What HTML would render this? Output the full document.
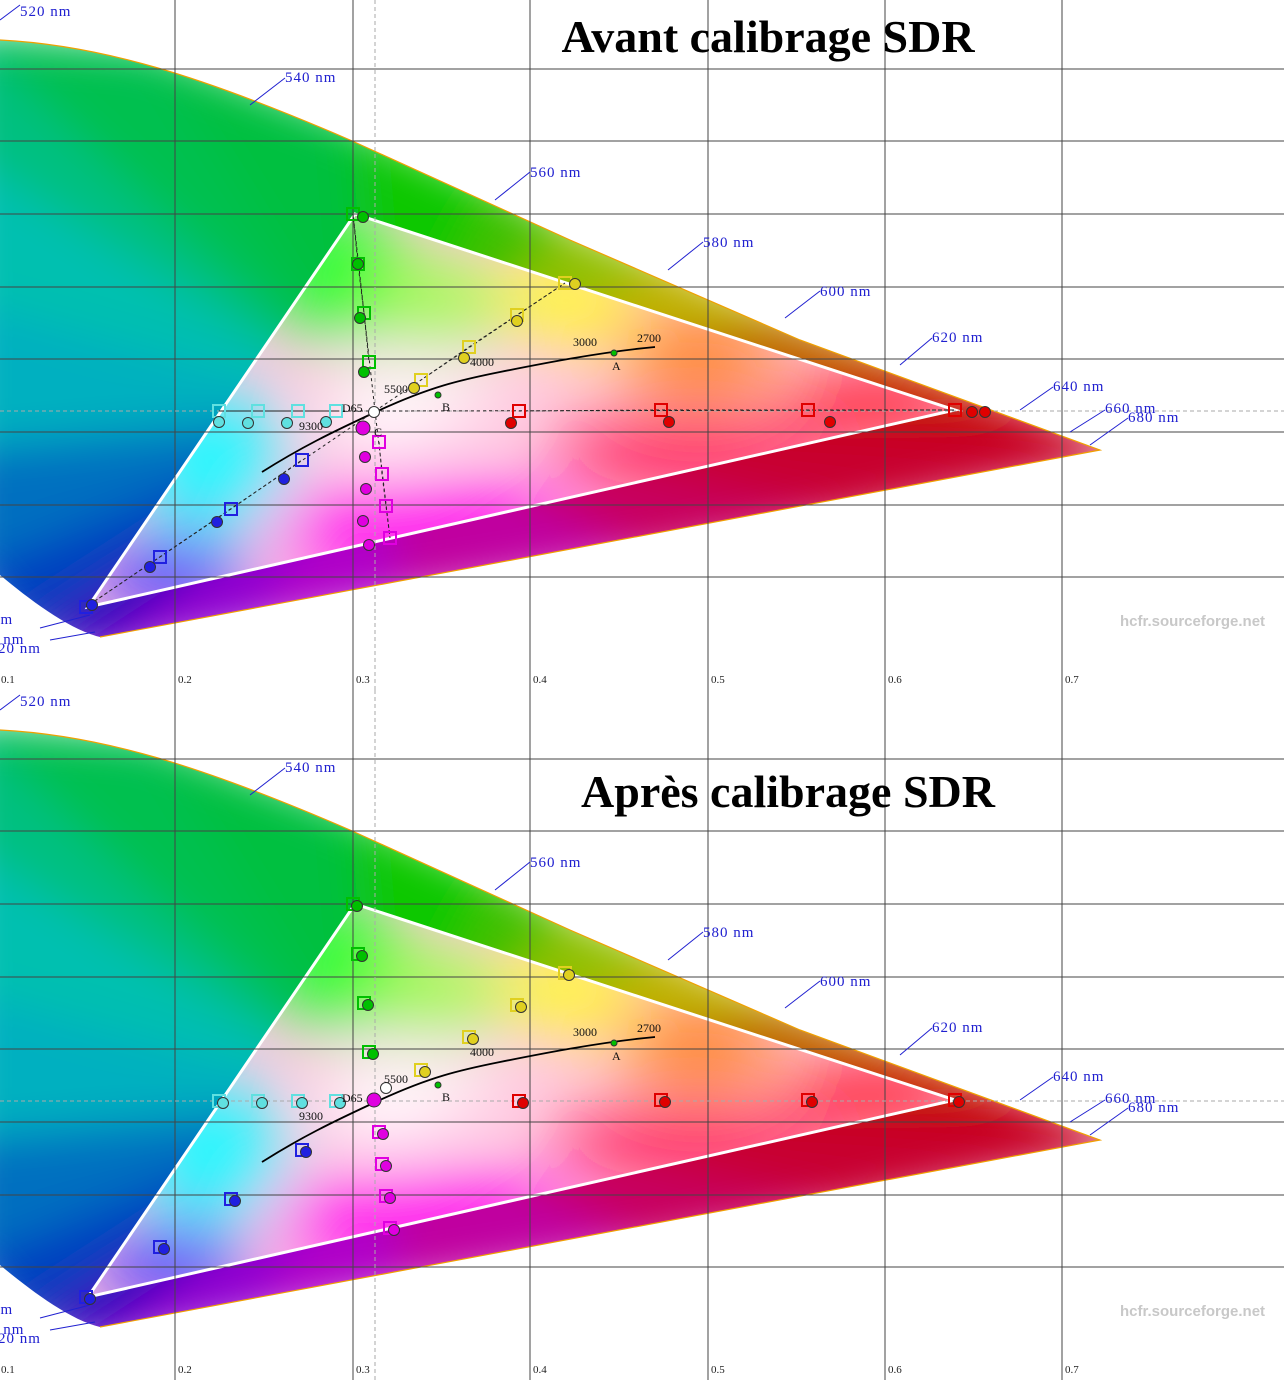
<!DOCTYPE html>
<html><head><meta charset="utf-8"><style>
html,body{margin:0;padding:0;background:#fff;}
svg{display:block;}
.wl{font-family:"Liberation Serif",serif;font-size:15px;fill:#2020d0;letter-spacing:1px;}
.ax{font-family:"Liberation Serif",serif;font-size:11px;fill:#222;}
.tt{font-family:"Liberation Serif",serif;font-size:46px;font-weight:bold;fill:#000;}
.wm{font-family:"Liberation Sans",sans-serif;font-size:15px;font-weight:bold;fill:#c8c8c8;}
.sm{font-family:"Liberation Serif",serif;font-size:12px;fill:#111;}
</style></head><body>
<svg id="s" width="1284" height="1394" viewBox="0 0 1284 1394" xmlns="http://www.w3.org/2000/svg">
<defs>
<clipPath id="hs"><path d="M0,40 C100,45 200,75 350,140 L570,240 L800,340 L1100,450 L100,637 C70,630 30,600 0,575 Z"/></clipPath>
<clipPath id="tri"><path d="M355,214 L955,410 L88,607 Z"/></clipPath>
<filter id="bl" x="-20%" y="-20%" width="140%" height="140%"><feGaussianBlur stdDeviation="22"/></filter>
<filter id="bl2" x="-50%" y="-50%" width="200%" height="200%"><feGaussianBlur stdDeviation="35"/></filter>
<g id="panel">
<g clip-path="url(#hs)">
<g id="fan" filter="url(#bl)"></g>
<g clip-path="url(#tri)">
<rect x="0" y="0" width="1200" height="700" fill="#ffc8e0"/>
<g filter="url(#bl2)">
<ellipse cx="335" cy="270" rx="70" ry="70" fill="#20ff30"/>
<ellipse cx="440" cy="300" rx="70" ry="45" fill="#a0ff50"/>
<ellipse cx="570" cy="300" rx="70" ry="40" fill="#ffff20"/>
<ellipse cx="700" cy="355" rx="80" ry="40" fill="#ff8018"/>
<ellipse cx="880" cy="405" rx="100" ry="30" fill="#ff0010"/>
<ellipse cx="690" cy="455" rx="140" ry="35" fill="#ff1050"/>
<ellipse cx="420" cy="530" rx="150" ry="45" fill="#ff10f0"/>
<ellipse cx="170" cy="575" rx="80" ry="35" fill="#4020ff"/>
<ellipse cx="210" cy="460" rx="75" ry="70" fill="#20f8ff"/>
<ellipse cx="385" cy="410" rx="60" ry="45" fill="#ffffff"/>
<ellipse cx="455" cy="395" rx="40" ry="25" fill="#ffffff"/>
</g>
</g>
</g>
<path d="M0,40 C100,45 200,75 350,140 L570,240 L800,340 L1100,450 L100,637" fill="none" stroke="#f0a000" stroke-width="1.2"/>
<path d="M355,214 L955,410 L88,607 Z" fill="none" stroke="#fff" stroke-width="3"/>
<g stroke="#444" stroke-width="1">
<line x1="175" y1="0" x2="175" y2="690"/><line x1="353" y1="0" x2="353" y2="690"/>
<line x1="530" y1="0" x2="530" y2="690"/><line x1="708" y1="0" x2="708" y2="690"/>
<line x1="885" y1="0" x2="885" y2="690"/><line x1="1062" y1="0" x2="1062" y2="690"/>
<line x1="0" y1="69" x2="1284" y2="69"/><line x1="0" y1="141" x2="1284" y2="141"/>
<line x1="0" y1="214" x2="1284" y2="214"/><line x1="0" y1="287" x2="1284" y2="287"/>
<line x1="0" y1="359" x2="1284" y2="359"/><line x1="0" y1="432" x2="1284" y2="432"/>
<line x1="0" y1="505" x2="1284" y2="505"/><line x1="0" y1="577" x2="1284" y2="577"/>
</g>
<g stroke="#aaa" stroke-dasharray="4,3"><line x1="375" y1="0" x2="375" y2="690"/><line x1="0" y1="411" x2="1284" y2="411"/></g>
<g stroke="#2020d0" stroke-width="1" fill="none">
<path d="M0,20 L20,5"/><path d="M250,105 L285,78"/><path d="M495,200 L530,172"/><path d="M668,270 L703,242"/>
<path d="M785,318 L820,291"/><path d="M900,365 L932,338"/><path d="M1020,410 L1053,387"/><path d="M1070,432 L1105,410"/><path d="M1090,445 L1128,418"/>
<path d="M40,628 L90,615"/><path d="M50,640 L95,632"/>
</g>
<path d="M262,472 C300,448 330,433 380,410 S460,380 500,372 S600,352 655,347" fill="none" stroke="#000" stroke-width="1.8"/>
</g>
</defs>
<use href="#panel"/>
<use href="#panel" transform="translate(0,690)"/>
<g id="mk"></g>
<text class="tt" x="768" y="52" text-anchor="middle">Avant calibrage SDR</text>
<text class="tt" x="788" y="807" text-anchor="middle">Après calibrage SDR</text>
<g class="wl">
<text x="20" y="16">520 nm</text><text x="285" y="82">540 nm</text><text x="530" y="177">560 nm</text><text x="703" y="247">580 nm</text><text x="820" y="296">600 nm</text><text x="932" y="342">620 nm</text><text x="1053" y="391">640 nm</text><text x="1105" y="413">660 nm</text><text x="1128" y="422">680 nm</text><text x="-8" y="624">nm</text><text x="-10" y="644">0 nm</text><text x="-2" y="653">20 nm</text>
<text x="20" y="706">520 nm</text><text x="285" y="772">540 nm</text><text x="530" y="867">560 nm</text><text x="703" y="937">580 nm</text><text x="820" y="986">600 nm</text><text x="932" y="1032">620 nm</text><text x="1053" y="1081">640 nm</text><text x="1105" y="1103">660 nm</text><text x="1128" y="1112">680 nm</text><text x="-8" y="1314">nm</text><text x="-10" y="1334">0 nm</text><text x="-2" y="1343">20 nm</text>
</g>
<g class="ax">
<text x="1" y="683">0.1</text><text x="178" y="683">0.2</text><text x="356" y="683">0.3</text><text x="533" y="683">0.4</text><text x="711" y="683">0.5</text><text x="888" y="683">0.6</text><text x="1065" y="683">0.7</text>
<text x="1" y="1373">0.1</text><text x="178" y="1373">0.2</text><text x="356" y="1373">0.3</text><text x="533" y="1373">0.4</text><text x="711" y="1373">0.5</text><text x="888" y="1373">0.6</text><text x="1065" y="1373">0.7</text>
</g>
<text class="wm" x="1120" y="626">hcfr.sourceforge.net</text>
<text class="wm" x="1120" y="1316">hcfr.sourceforge.net</text>
<g class="sm">
<text x="573" y="346">3000</text><text x="637" y="342">2700</text><text x="470" y="366">4000</text><text x="384" y="393">5500</text><text x="342" y="412">D65</text><text x="299" y="430">9300</text><text x="612" y="370">A</text><text x="442" y="411">B</text><text x="374" y="436">C</text>
<text x="573" y="1036">3000</text><text x="637" y="1032">2700</text><text x="470" y="1056">4000</text><text x="384" y="1083">5500</text><text x="342" y="1102">D65</text><text x="299" y="1120">9300</text><text x="612" y="1060">A</text><text x="442" y="1101">B</text>
</g>
</svg>
<script>
var NS='http://www.w3.org/2000/svg';
var fan=document.getElementById('fan');
var B=[[-40,30,'#00c050'],[150,45,'#00c040'],[350,120,'#10c800'],[495,185,'#40c000'],[570,225,'#90c000'],[670,265,'#c0b000'],[785,315,'#c07000'],[900,360,'#c83000'],[1020,405,'#c80010'],[1150,455,'#c80030'],[850,520,'#c80060'],[650,560,'#c000a0'],[400,600,'#b000c8'],[250,630,'#9000d0'],[100,660,'#4000c0'],[20,640,'#0040c0'],[-40,575,'#0070c0'],[-40,450,'#00b0c0'],[-40,300,'#00c0b0'],[-40,150,'#00c080']];
for(var i=0;i<B.length;i++){var a=B[i],b=B[(i+1)%B.length];var p=document.createElementNS(NS,'polygon');p.setAttribute('points','375,411 '+a[0]+','+a[1]+' '+b[0]+','+b[1]);p.setAttribute('fill',a[2]);p.setAttribute('stroke',a[2]);fan.appendChild(p);}
var g=document.getElementById('mk');
function sq(x,y,c){var r=document.createElementNS(NS,'rect');r.setAttribute('x',x-6);r.setAttribute('y',y-6);r.setAttribute('width',12);r.setAttribute('height',12);r.setAttribute('fill','none');r.setAttribute('stroke',c);r.setAttribute('stroke-width',2);g.appendChild(r);}
function ci(x,y,c,r){var e=document.createElementNS(NS,'circle');e.setAttribute('cx',x);e.setAttribute('cy',y);e.setAttribute('r',r||5.5);e.setAttribute('fill',c);e.setAttribute('stroke','#333');e.setAttribute('stroke-width',1);g.appendChild(e);}
function ln(a){var p=document.createElementNS(NS,'polyline');p.setAttribute('points',a.map(function(q){return q.join(',')}).join(' '));p.setAttribute('fill','none');p.setAttribute('stroke','#222');p.setAttribute('stroke-dasharray','3,3');g.appendChild(p);}
var S={g:[[353,214],[358,264],[364,313],[369,362]],y:[[565,283],[517,315],[469,347],[421,380]],c:[[219,411],[258,411],[298,411],[336,411]],r:[[955,410],[808,410],[661,410],[519,411]],m:[[390,538],[386,506],[382,474],[379,442]],b:[[86,607],[160,557],[231,509],[302,460]]};
var col={g:'#00c000',y:'#e0d020',c:'#60e0e0',r:'#e00000',m:'#e000e0',b:'#2020e0'};
var C1={g:[[363,217],[358,264],[360,318],[364,372]],y:[[575,284],[517,321],[464,358],[414,388]],c:[[219,422],[248,423],[287,423],[326,422]],r:[[985,412],[830,422],[669,422],[511,423]],m:[[369,545],[363,521],[366,489],[365,457]],b:[[92,605],[150,567],[217,522],[284,479]]};
for(var k in S){ln([[375,411]].concat(S[k]));S[k].forEach(function(p){sq(p[0],p[1],col[k]);sq(p[0],p[1]+690,col[k]);});
C1[k].forEach(function(p){ci(p[0],p[1],col[k]);});
S[k].forEach(function(p){ci(p[0]+4,p[1]+692,col[k]);});}
ci(972,412,'#e00000');ci(374,412,'#fff');ci(363,428,'#e000e0',7);
ci(386,1088,'#fff');ci(374,1100,'#e000e0',7);
ci(438,395,'#00c000',3);ci(614,353,'#00c000',3);ci(438,1085,'#00c000',3);ci(614,1043,'#00c000',3);
</script>
</body></html>
